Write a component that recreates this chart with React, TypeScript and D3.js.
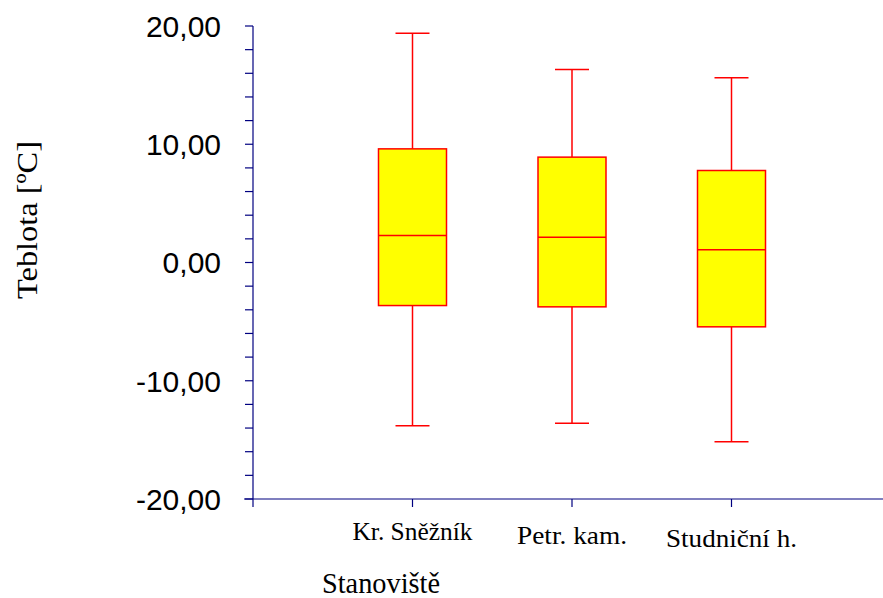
import React from "react";
import * as d3 from "d3";

// Temperature summary per station (five-number summary, °C)
const stations = ["Kr. Sněžník", "Petr. kam.", "Studniční h."];
const maxima = [19.39, 16.32, 15.62];
const q3s = [9.61, 8.91, 7.78];
const medians = [2.28, 2.14, 1.07];
const q1s = [-3.64, -3.75, -5.44];
const minima = [-13.81, -13.59, -15.16];

const majorTicks = [-20, -10, 0, 10, 20];
const minorTicks = d3.range(-20, 20.001, 2);

const W = 883;
const H = 598;
const left = 253;
const top = 26;
const bottom = 499;

// rendered widths of the category labels
const labelWidths = [120, 110, 131];

const fmt = (v: number) => v.toFixed(2).replace(".", ",");

export default function App() {
  const y = d3.scaleLinear().domain([-20, 20]).range([bottom, top]);
  const x = d3.scaleLinear().domain([0, 1]).range([left, left + 159.5]);
  const boxW = 68;
  const capW = 34;
  const axisColor = "#000080";
  const serif = "'Liberation Serif', 'Times New Roman', serif";

  return (
    <svg
      width={W}
      height={H}
      style={{ position: "absolute", left: 0, top: 0, background: "#fff" }}
    >
      {/* y axis */}
      <line x1={left} x2={left} y1={top} y2={bottom + 8} stroke={axisColor} strokeWidth={1.2} />
      {minorTicks.map((t) => (
        <line key={t} x1={left - 8} x2={left} y1={y(t)} y2={y(t)} stroke={axisColor} strokeWidth={1.2} />
      ))}
      {majorTicks.map((t) => (
        <text
          key={t}
          x={221}
          y={y(t)}
          dy="0.36em"
          textAnchor="end"
          fontFamily="'Liberation Sans', Arial, sans-serif"
          fontSize={30}
          fill="#000"
        >
          {fmt(t)}
        </text>
      ))}

      {/* x axis */}
      <line x1={left - 9} x2={W} y1={bottom} y2={bottom} stroke={axisColor} strokeWidth={1.2} />
      {stations.map((s, i) => (
        <line key={s} x1={x(i + 1)} x2={x(i + 1)} y1={bottom} y2={bottom + 8} stroke={axisColor} strokeWidth={1.2} />
      ))}
      {stations.map((s, i) => (
        <text
          key={s}
          x={x(i + 1)}
          y={540 + i * 3.5}
          textAnchor="middle"
          fontFamily={serif}
          fontSize={26}
          textLength={labelWidths[i]}
          lengthAdjust="spacingAndGlyphs"
          fill="#000"
        >
          {s}
        </text>
      ))}

      {/* boxes */}
      {stations.map((s, i) => {
        const cx = x(i + 1);
        return (
          <g key={s} stroke="#ff0000" strokeWidth={1.5}>
            <line x1={cx} x2={cx} y1={y(maxima[i])} y2={y(q3s[i])} />
            <line x1={cx} x2={cx} y1={y(q1s[i])} y2={y(minima[i])} />
            <line x1={cx - capW / 2} x2={cx + capW / 2} y1={y(maxima[i])} y2={y(maxima[i])} />
            <line x1={cx - capW / 2} x2={cx + capW / 2} y1={y(minima[i])} y2={y(minima[i])} />
            <rect
              x={cx - boxW / 2}
              y={y(q3s[i])}
              width={boxW}
              height={y(q1s[i]) - y(q3s[i])}
              fill="#ffff00"
            />
            <line x1={cx - boxW / 2} x2={cx + boxW / 2} y1={y(medians[i])} y2={y(medians[i])} />
          </g>
        );
      })}

      {/* axis titles */}
      <text
        x={381}
        y={593}
        textAnchor="middle"
        fontFamily={serif}
        fontSize={29}
        textLength={118}
        lengthAdjust="spacingAndGlyphs"
        fill="#000"
      >
        Stanoviště
      </text>
      <text
        transform="translate(37,220) rotate(-90)"
        textAnchor="middle"
        fontFamily={serif}
        fontSize={30}
        textLength={158}
        lengthAdjust="spacingAndGlyphs"
        fill="#000"
      >
        Teblota [ºC]
      </text>
    </svg>
  );
}
